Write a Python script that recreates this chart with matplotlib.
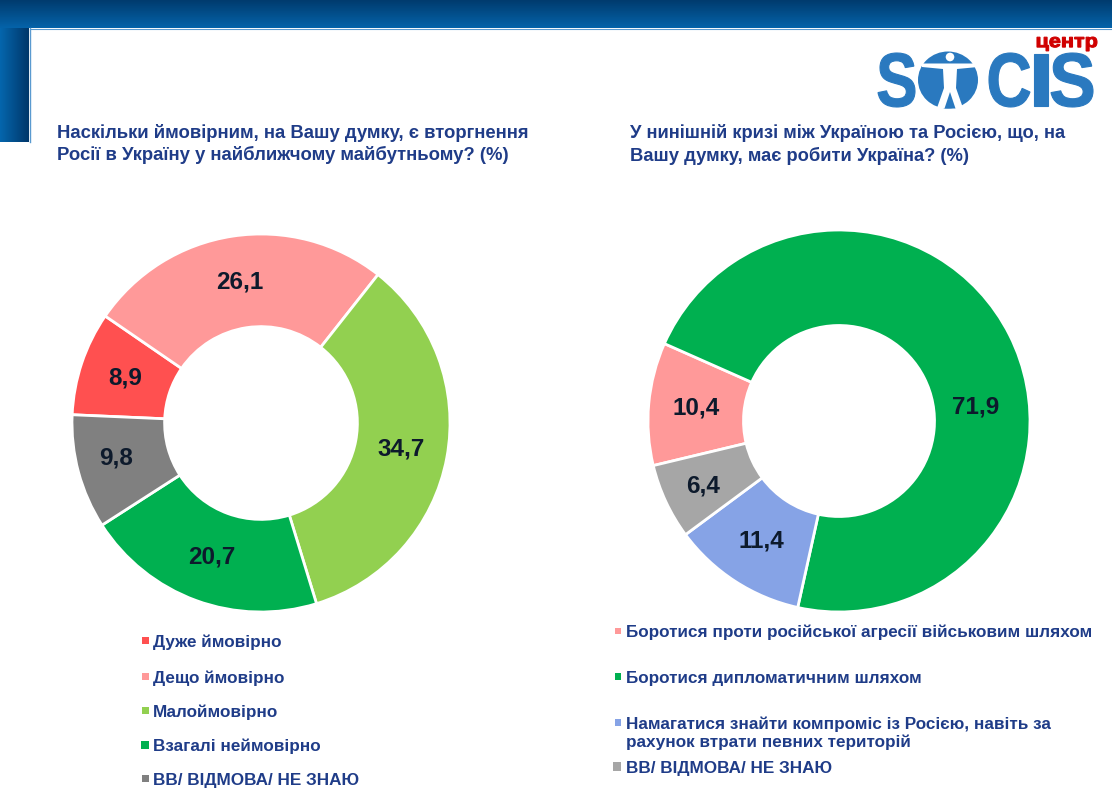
import numpy as np
import matplotlib
matplotlib.use("Agg")
import matplotlib.pyplot as plt
from matplotlib.patches import Rectangle, Ellipse, Circle, PathPatch, Polygon
from matplotlib.textpath import TextPath
from matplotlib.font_manager import FontProperties
from matplotlib.transforms import Affine2D
from matplotlib.colors import LinearSegmentedColormap

# ---------------- data ----------------
left_title = ["Наскільки ймовірним, на Вашу думку, є вторгнення",
              "Росії в Україну у найближчому майбутньому? (%)"]
left_labels = ["Дуже ймовірно", "Дещо ймовірно", "Малоймовірно",
               "Взагалі неймовірно", "ВВ/ ВІДМОВА/ НЕ ЗНАЮ"]
left_values = [8.9, 26.1, 34.7, 20.7, 9.8]
left_colors = ["#FF5050", "#FF9999", "#92D050", "#00B050", "#808080"]

right_title = ["У нинішній кризі між Україною та Росією, що, на",
               "Вашу думку, має робити Україна? (%)"]
right_labels = ["Боротися проти російської агресії військовим шляхом",
                "Боротися дипломатичним шляхом",
                "Намагатися знайти компроміс із Росією, навіть за\nрахунок втрати певних територій",
                "ВВ/ ВІДМОВА/ НЕ ЗНАЮ"]
right_values = [10.4, 71.9, 11.4, 6.4]
right_colors = ["#FF9999", "#00B050", "#86A3E6", "#A6A6A6"]

# ---------------- style ----------------
W, H = 1112, 800
FAM = ["Liberation Sans", "DejaVu Sans"]
NAVY = "#1F3C88"
LABEL_C = "#0D1A2C"

fig = plt.figure(figsize=(W / 100, H / 100), dpi=100)
bg = fig.add_axes([0, 0, 1, 1])
bg.axis("off")

# header band and left strip (gradients)
cm_top = LinearSegmentedColormap.from_list("t", ["#003B6E", "#0563A9"])
bg.imshow(np.linspace(0, 1, 64)[:, None], extent=(0, W, 28, 0), cmap=cm_top,
          aspect="auto", interpolation="bilinear", origin="upper", zorder=1)
cm_side = LinearSegmentedColormap.from_list("s", ["#0566AD", "#00376A"])
bg.imshow(np.linspace(0, 1, 64)[None, :], extent=(0, 29, 142, 28), cmap=cm_side,
          aspect="auto", interpolation="bilinear", origin="upper", zorder=1)
bg.plot([29.5, 29.5], [28, 142], color="#5A9AD0", lw=1, zorder=2)
bg.plot([29.5, W], [28.5, 28.5], color="#5A9AD0", lw=0.8, zorder=2)

# titles
for i, line in enumerate(left_title):
    bg.text(57, 137.5 + 23 * i, line, family=FAM, weight="bold", fontsize=13.3,
            color=NAVY, va="baseline", ha="left")
for i, line in enumerate(right_title):
    bg.text(630, 137.5 + 23.5 * i, line, family=FAM, weight="bold", fontsize=13.2,
            color=NAVY, va="baseline", ha="left")

# legends
left_base = [647, 683, 717, 751, 785]
left_sq = [7, 7, 7, 8, 7]
for lab, col, yb, s in zip(left_labels, left_colors, left_base, left_sq):
    bg.add_patch(Rectangle((149 - s, yb - 6.5 - s / 2), s, s, facecolor=col,
                           edgecolor="none", zorder=3))
    bg.text(153, yb, lab, family=FAM, weight="bold", fontsize=12.35, color=NAVY,
            va="baseline", ha="left")

right_base = [637, 682.7, 728.7, 772.7]
right_sq = [6.5, 6.5, 6.5, 8.5]
for lab, col, yb, s in zip(right_labels, right_colors, right_base, right_sq):
    bg.add_patch(Rectangle((621 - s, yb - 6 - s / 2), s, s, facecolor=col,
                           edgecolor="none", zorder=3))
    for j, part in enumerate(lab.split("\n")):
        bg.text(626, yb + 18.5 * j, part, family=FAM, weight="bold", fontsize=12.35,
                color=NAVY, va="baseline", ha="left")

# logo
fp_logo = FontProperties(family="Liberation Sans", weight="bold")
LOGO_BLUE = "#2A79BF"


def fit_text(s, x0, x1, ytop, ybot, color):
    tp = TextPath((0, 0), s, size=100, prop=fp_logo)
    ext = tp.get_extents()
    sx = (x1 - x0) / ext.width
    sy = (ybot - ytop) / ext.height
    tr = Affine2D().translate(-ext.x0, -ext.y1).scale(sx, -sy).translate(x0, ytop)
    bg.add_patch(PathPatch(tr.transform_path(tp), facecolor=color,
                           edgecolor=color, linewidth=0.8, zorder=4))


fit_text("центр", 1037, 1097, 37, 51, "#D00000")
fit_text("S", 878, 915, 53, 107, LOGO_BLUE)
fit_text("C", 989, 1030, 53, 107, LOGO_BLUE)
fit_text("I", 1034, 1048, 54, 106, LOGO_BLUE)
fit_text("S", 1051, 1093, 53, 107, LOGO_BLUE)
bg.add_patch(Ellipse((948, 80), 60, 57, facecolor=LOGO_BLUE, edgecolor="none", zorder=4))
bg.add_patch(Polygon([(922, 63.5), (978, 63.5), (978, 67), (957, 69), (956, 88),
                      (963, 108), (937, 108), (944, 88), (943, 69), (922, 67)],
                     closed=True, facecolor="white", edgecolor="none", zorder=5))
bg.add_patch(Polygon([(950, 92), (955.5, 108.5), (944.5, 108.5)], closed=True,
                     facecolor=LOGO_BLUE, edgecolor="none", zorder=6))
bg.add_patch(Circle((950, 57), 4.3, facecolor="white", edgecolor="none", zorder=6))

bg.set_xlim(0, W)
bg.set_ylim(H, 0)


# donuts
def donut(values, colors, cx, cy, R, start, width, overrides):
    ax = fig.add_axes([(cx - R) / W, 1 - (cy + R) / H, 2 * R / W, 2 * R / H])
    ax.patch.set_alpha(0)
    wedges, _ = ax.pie(values, colors=colors, startangle=start, counterclock=False,
                       radius=1.0,
                       wedgeprops=dict(width=width, edgecolor="white", linewidth=2))
    for i, (w, v) in enumerate(zip(wedges, values)):
        ang = np.deg2rad((w.theta1 + w.theta2) / 2)
        r = 1 - width / 2
        if i in overrides:
            ang = np.deg2rad(overrides[i][0])
            r = overrides[i][1]
        ax.text(r * np.cos(ang), r * np.sin(ang), f"{v:.1f}".replace(".", ","),
                ha="center", va="center", family=FAM, weight="bold",
                fontsize=17.5, color=LABEL_C)
    ax.set_xlim(-1, 1)
    ax.set_ylim(-1, 1)
    ax.axis("off")
    return ax


donut(left_values, left_colors, 261, 423, 189, 177.5, 0.49, {4: (193.5, 0.79)})
donut(right_values, right_colors, 839, 421, 191, 193.5, 0.5,
      {1: (6.0, 0.72), 3: (205.5, 0.79)})

fig.savefig("out.png", dpi=100)
